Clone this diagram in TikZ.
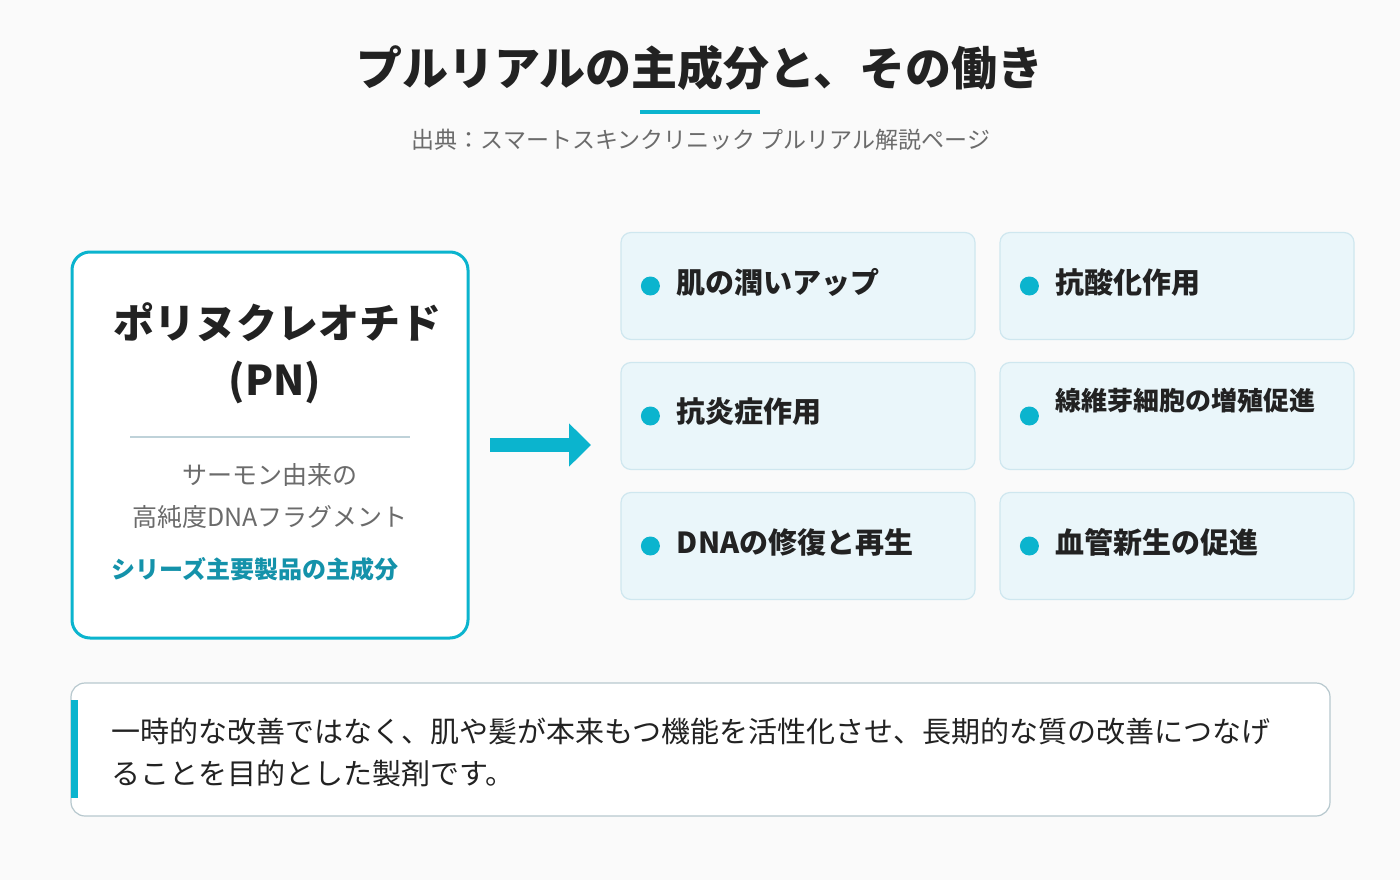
\documentclass[tikz,border=0pt]{standalone}
\usepackage{fontspec}
\setmainfont{Noto Sans CJK JP}
\usetikzlibrary{positioning,arrows.meta,calc}
\definecolor{pnCyan}{HTML}{0BB4CE}
\definecolor{pnDeep}{HTML}{1492AA}
\definecolor{pnPale}{HTML}{EAF6FA}
\definecolor{pnEdge}{HTML}{CFE7EF}
\definecolor{pnGray}{HTML}{6B6B6B}
\definecolor{pnInk}{HTML}{222222}
\definecolor{pnBack}{HTML}{FAFAFA}
\tikzset{
  effect/.style={draw=pnEdge, line width=1.2pt, fill=pnPale, rounded corners=10pt, minimum width=354pt, minimum height=107pt},
  dot/.style={circle, fill=pnCyan, minimum width=19pt, inner sep=0pt},
  efftext/.style={font=\fontsize{29}{33}\selectfont\bfseries, text=pnInk, anchor=west},
  note/.style={font=\fontsize{25}{29}\selectfont, text=pnGray}
}
\begin{document}
\begin{tikzpicture}[x=1pt,y=-1pt]
\fill[pnBack] (0,0) rectangle (1400,880);
\useasboundingbox (0,0) rectangle (1400,880);
% title
\node[font=\fontsize{46}{52}\selectfont\bfseries, text=pnInk] (title) at (700,68) {プルリアルの主成分と、その働き};
\draw[pnCyan, line width=4pt] (640,112) -- (760,112);
\node[font=\fontsize{23}{27}\selectfont, text=pnGray] (source) at (701,140) {出典：スマートスキンクリニック プルリアル解説ページ};
% left box
\node[draw=pnCyan, line width=3pt, fill=white, rounded corners=18pt, minimum width=396pt, minimum height=386pt] (pn) at (270,445) {};
\node[font=\fontsize{41}{47}\selectfont\bfseries, text=pnInk] (pnname) at (277,322) {ポリヌクレオチド};
\node[font=\fontsize{41}{47}\selectfont\bfseries, text=pnInk] (pnabbr) at (275,382) {(PN)};
\draw[pnEdge!80!gray, line width=1.2pt] (130,437) -- (410,437);
\node[note] (origin1) at (270,475) {サーモン由来の};
\node[note] (origin2) at (270,517) {高純度DNAフラグメント};
\node[font=\fontsize{24}{28}\selectfont\bfseries, text=pnDeep] (main) at (255,569) {シリーズ主要製品の主成分};
% arrow
\coordinate (arrS) at (490,445);
\coordinate (arrE) at (591,445);
\draw[pnCyan, line width=14pt, -{Triangle[length=22pt,width=42pt]}] (arrS) -- (arrE);
% effects
\foreach \cx/\cy/\txt/\nm in {798/286/肌の潤いアップ/e1, 1177/286/抗酸化作用/e2, 798/416/抗炎症作用/e3, 798/546/DNAの修復と再生/e5, 1177/546/血管新生の促進/e6}{
  \node[effect] (\nm) at (\cx,\cy) {};
  \node[dot] at ($(\nm.west)+(30,0)$) {};
  \node[efftext] at ($(\nm.west)+(53,-4)$) {\txt};
}
\node[effect] (e4) at (1177,416) {};
\node[dot] at ($(e4.west)+(30,0)$) {};
\node[efftext, font=\fontsize{26}{30}\selectfont\bfseries] at ($(e4.west)+(53,-15)$) {線維芽細胞の増殖促進};
% bottom note
\node[draw=pnEdge!70!gray, line width=1.2pt, fill=white, rounded corners=14pt, minimum width=1259pt, minimum height=133pt] (summary) at (700.5,749.5) {};
\fill[pnCyan] (71,700) rectangle (78,798);
\node[font=\fontsize{29}{33}\selectfont, text=pnInk, anchor=west] (sum1) at (108,731) {一時的な改善ではなく、肌や髪が本来もつ機能を活性化させ、長期的な質の改善につなげ};
\node[font=\fontsize{29}{33}\selectfont, text=pnInk, anchor=west] (sum2) at (108,774) {ることを目的とした製剤です。};
\end{tikzpicture}
\end{document}
